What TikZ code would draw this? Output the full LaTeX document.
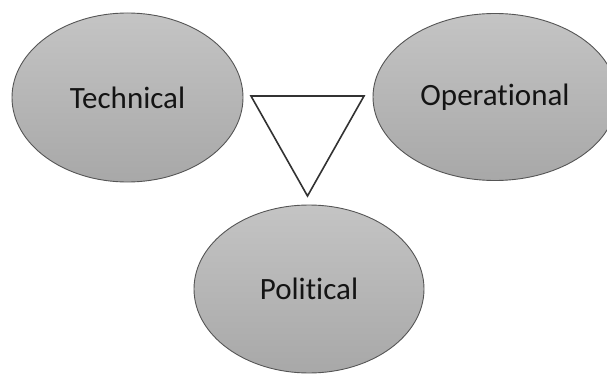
\documentclass[tikz,border=0pt]{standalone}
\usepackage{fontspec}
\setmainfont{Carlito}[Ligatures={NoCommon}]
\usetikzlibrary{shapes.geometric}
\definecolor{ellTop}{RGB}{196,196,196}
\definecolor{ellBot}{RGB}{168,168,168}
\definecolor{ellLine}{RGB}{85,85,85}
\definecolor{txt}{RGB}{20,20,20}
\definecolor{triLine}{RGB}{50,50,50}
\tikzset{
  blob/.style={ellipse, draw=ellLine, line width=0.9pt, top color=ellTop, bottom color=ellBot,
    inner sep=0pt, text=txt, font=\fontsize{31}{37}\selectfont},
  tri/.style={draw=triLine, line width=1.6pt, fill=white, line join=miter}
}
\begin{document}
\begin{tikzpicture}[x=1pt,y=-1pt]
\useasboundingbox (0,0) rectangle (607,374);
\begin{scope}
\clip (0,0) rectangle (607,374);
\node[blob, minimum width=231pt, minimum height=169pt] (tech) at (127.5,97.5) {Technical};
\node[blob, minimum width=244pt, minimum height=167pt] (oper) at (495,97) {Operational};
\node[blob, minimum width=230pt, minimum height=168pt] (pol) at (309,289) {Political};
\end{scope}
\coordinate (t1) at (251,96);
\coordinate (t2) at (364,96);
\coordinate (t3) at (307.5,196);
\draw[tri] (t1) -- (t2) -- (t3) -- cycle;
\end{tikzpicture}
\end{document}
